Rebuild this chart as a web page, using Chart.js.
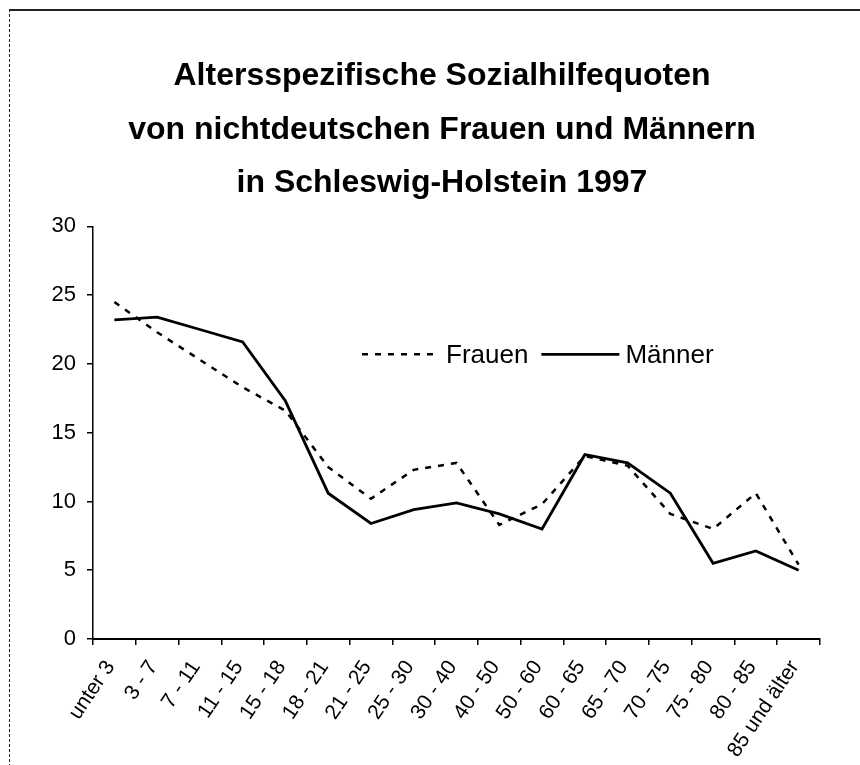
<!DOCTYPE html>
<html>
<head>
<meta charset="utf-8">
<script src="https://cdn.jsdelivr.net/npm/chart.js@4"></script>
<style>
  body { margin: 0; background: #fff; }
  #frame { position: absolute; left: 9px; top: 9px; width: 851px; height: 756px;
           border-top: 2px solid #222; border-left: 1px dashed #222; }
  #wrap { position: absolute; left: 0; top: 0; width: 860px; height: 765px; }
</style>
</head>
<body>
<div id="frame"></div>
<div id="wrap"><canvas id="chart" width="860" height="765"></canvas></div>
<script>
// age groups
const categories = ['unter 3', '3 - 7', '7 - 11', '11 - 15', '15 - 18', '18 - 21', '21 - 25', '25 - 30',
  '30 - 40', '40 - 50', '50 - 60', '60 - 65', '65 - 70', '70 - 75', '75 - 80', '80 - 85', '85 und älter'];
const frauen = [24.5, 22.3, 20.3, 18.3, 16.6, 12.5, 10.2, 12.3, 12.8, 8.3, 9.8, 13.3, 12.6, 9.1, 8.0, 10.6, 5.4];
const maenner = [23.2, 23.4, 22.5, 21.6, 17.3, 10.6, 8.4, 9.4, 9.9, 9.1, 8.0, 13.4, 12.8, 10.6, 5.5, 6.4, 5.0];
const yTicks = [0, 5, 10, 15, 20, 25, 30];

const titleLines = ['Altersspezifische Sozialhilfequoten', 'von nichtdeutschen Frauen und Männern', 'in Schleswig-Holstein 1997'];
const FONT = "'Liberation Sans', Arial, sans-serif";

// legend drawn inside the plot, like the original
const innerLegend = {
  id: 'innerLegend',
  afterLayout(chart) {
    // title in the original is centred a bit right of the canvas middle
    if (chart.titleBlock) {
      chart.titleBlock.left += 12;
      chart.titleBlock.right += 12;
    }
  },
  afterDraw(chart) {
    const ctx = chart.ctx;
    const a = chart.chartArea;
    const y = a.top + 128;
    let x = a.left + 269;
    ctx.save();
    ctx.font = '26px ' + FONT;
    ctx.fillStyle = '#000';
    ctx.textBaseline = 'middle';
    chart.data.datasets.forEach(ds => {
      ctx.beginPath();
      ctx.setLineDash(ds.borderDash || []);
      ctx.lineWidth = ds.borderWidth;
      ctx.strokeStyle = ds.borderColor;
      ctx.moveTo(x, y);
      ctx.lineTo(x + 78, y);
      ctx.stroke();
      ctx.setLineDash([]);
      ctx.fillText(ds.label, x + 84, y + 1);
      x += 84 + ctx.measureText(ds.label).width + 13;
    });
    ctx.restore();
  }
};

const ctx = document.getElementById('chart').getContext('2d');
new Chart(ctx, {
  type: 'line',
  data: {
    labels: categories,
    datasets: [
      {
        label: 'Frauen',
        data: frauen,
        borderColor: '#000',
        borderWidth: 2.5,
        borderDash: [6, 7],
        pointRadius: 0,
        tension: 0,
        fill: false
      },
      {
        label: 'Männer',
        data: maenner,
        borderColor: '#000',
        borderWidth: 2.8,
        pointRadius: 0,
        tension: 0,
        fill: false
      }
    ]
  },
  options: {
    responsive: false,
    animation: false,
    layout: { padding: { left: 40, right: 40, top: 0, bottom: 0 } },
    plugins: {
      legend: { display: false },
      tooltip: { enabled: false },
      title: {
        display: true,
        text: titleLines,
        color: '#000',
        font: { family: FONT, size: 32, weight: 'bold', lineHeight: 1.66 },
        padding: { top: 50, bottom: 17 }
      }
    },
    scales: {
      x: {
        offset: true,
        grid: { drawOnChartArea: false, offset: true, color: '#000', tickLength: 6, lineWidth: 1.5 },
        border: { display: true, color: '#000', width: 2 },
        ticks: {
          autoSkip: false,
          minRotation: 56,
          maxRotation: 56,
          padding: 11,
          labelOffset: -4,
          color: '#000',
          font: { family: FONT, size: 21 }
        },
        afterFit: scale => { scale.height = 126; }
      },
      y: {
        min: 0,
        max: 30,
        afterBuildTicks: scale => { scale.ticks = yTicks.map(v => ({ value: v })); },
        grid: { drawOnChartArea: false, color: '#000', tickLength: 6, lineWidth: 1.5 },
        border: { display: true, color: '#000', width: 1.5 },
        ticks: {
          padding: 11,
          color: '#000',
          font: { family: FONT, size: 22 }
        },
        afterFit: scale => { scale.width = 53; }
      }
    }
  },
  plugins: [innerLegend]
});
</script>
</body>
</html>
